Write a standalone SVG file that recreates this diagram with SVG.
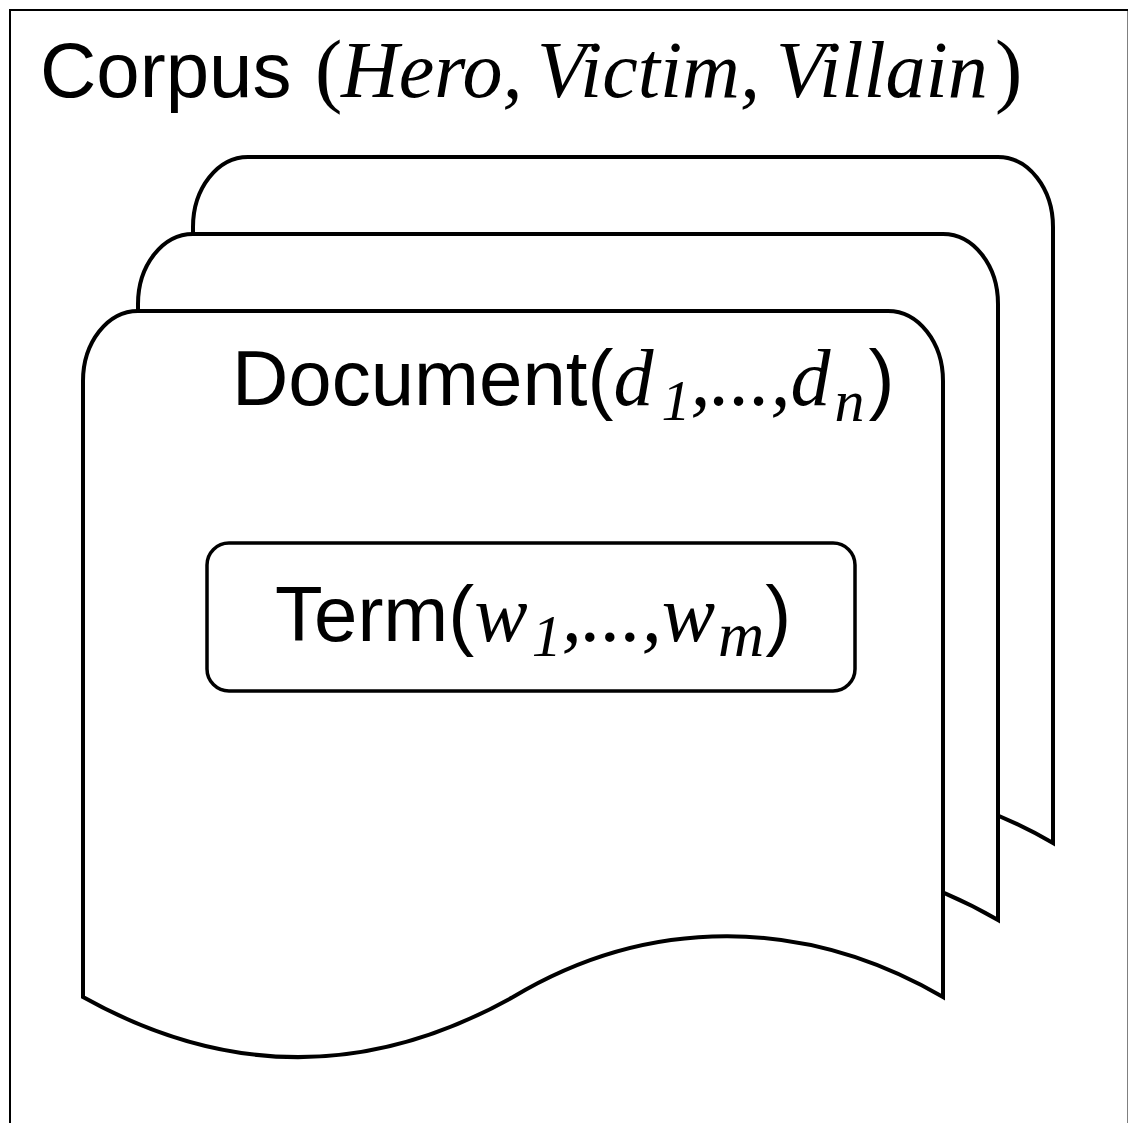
<svg xmlns="http://www.w3.org/2000/svg" width="1128" height="1123" viewBox="0 0 1128 1123">
  <style>
    .frame { fill: #ffffff; stroke: #000000; stroke-width: 2; }
    .doc { fill: #ffffff; stroke: #000000; stroke-width: 4; stroke-linejoin: miter; }
    .box { fill: #ffffff; stroke: #000000; stroke-width: 3.5; }
    .sans { font-family: "Liberation Sans", Arial, sans-serif; fill: #000000; }
    .serif { font-family: "Liberation Serif", "Times New Roman", serif; }
    .ital { font-family: "Liberation Serif", "Times New Roman", serif; font-style: italic; }
    .lbl { font-size: 78px; }
  </style>
  <defs>
    <!-- document sheet: rounded top, wavy bottom edge -->
    <path id="sheet" d="M 83 997 L 83 381 A 55 70 0 0 1 138 311 L 888 311 A 55 70 0 0 1 943 381 L 943 997 C 805 917, 650 915, 513 997 C 370 1077, 226 1077, 83 997 Z"/>
  </defs>

  <!-- outer corpus frame -->
  <g id="corpus">
    <rect class="frame" x="10" y="10" width="1118.5" height="1200"/>
    <text class="sans lbl" x="40" y="97">Corpus <tspan class="serif" x="315" font-size="82">(</tspan><tspan class="ital" x="341" font-size="80">Hero,</tspan><tspan class="ital" x="537" font-size="80">Victim,</tspan><tspan class="ital" x="776" font-size="80">Villain</tspan><tspan class="serif" x="995" font-size="82">)</tspan></text>
  </g>

  <!-- stacked documents, back to front -->
  <g id="document-back">
    <use href="#sheet" class="doc" transform="translate(110,-154)"/>
  </g>
  <g id="document-middle">
    <use href="#sheet" class="doc" transform="translate(55,-77)"/>
  </g>
  <g id="document">
    <use href="#sheet" class="doc"/>
    <text class="sans lbl" x="232" y="405">Document(<tspan class="ital" font-size="80">d</tspan><tspan class="ital" font-size="58" dx="8" dy="15">1</tspan><tspan class="ital" font-size="80" dy="-15">,...,d</tspan><tspan class="ital" font-size="60" dx="4" dy="16">n</tspan><tspan dx="4" dy="-16">)</tspan></text>
  </g>

  <!-- term node inside the document -->
  <g id="term">
    <rect class="box" x="207" y="543" width="648" height="148" rx="22" ry="22"/>
    <text class="sans lbl" x="275" y="641">Term(<tspan class="ital" font-size="80">w</tspan><tspan class="ital" font-size="60" dx="4" dy="15">1</tspan><tspan class="ital" font-size="80" dy="-15">,...,w</tspan><tspan class="ital" font-size="64" dx="3" dy="15">m</tspan><tspan dx="1" dy="-15">)</tspan></text>
  </g>

  <!-- no connectors between nodes -->
  <g id="connectors"/>
</svg>
